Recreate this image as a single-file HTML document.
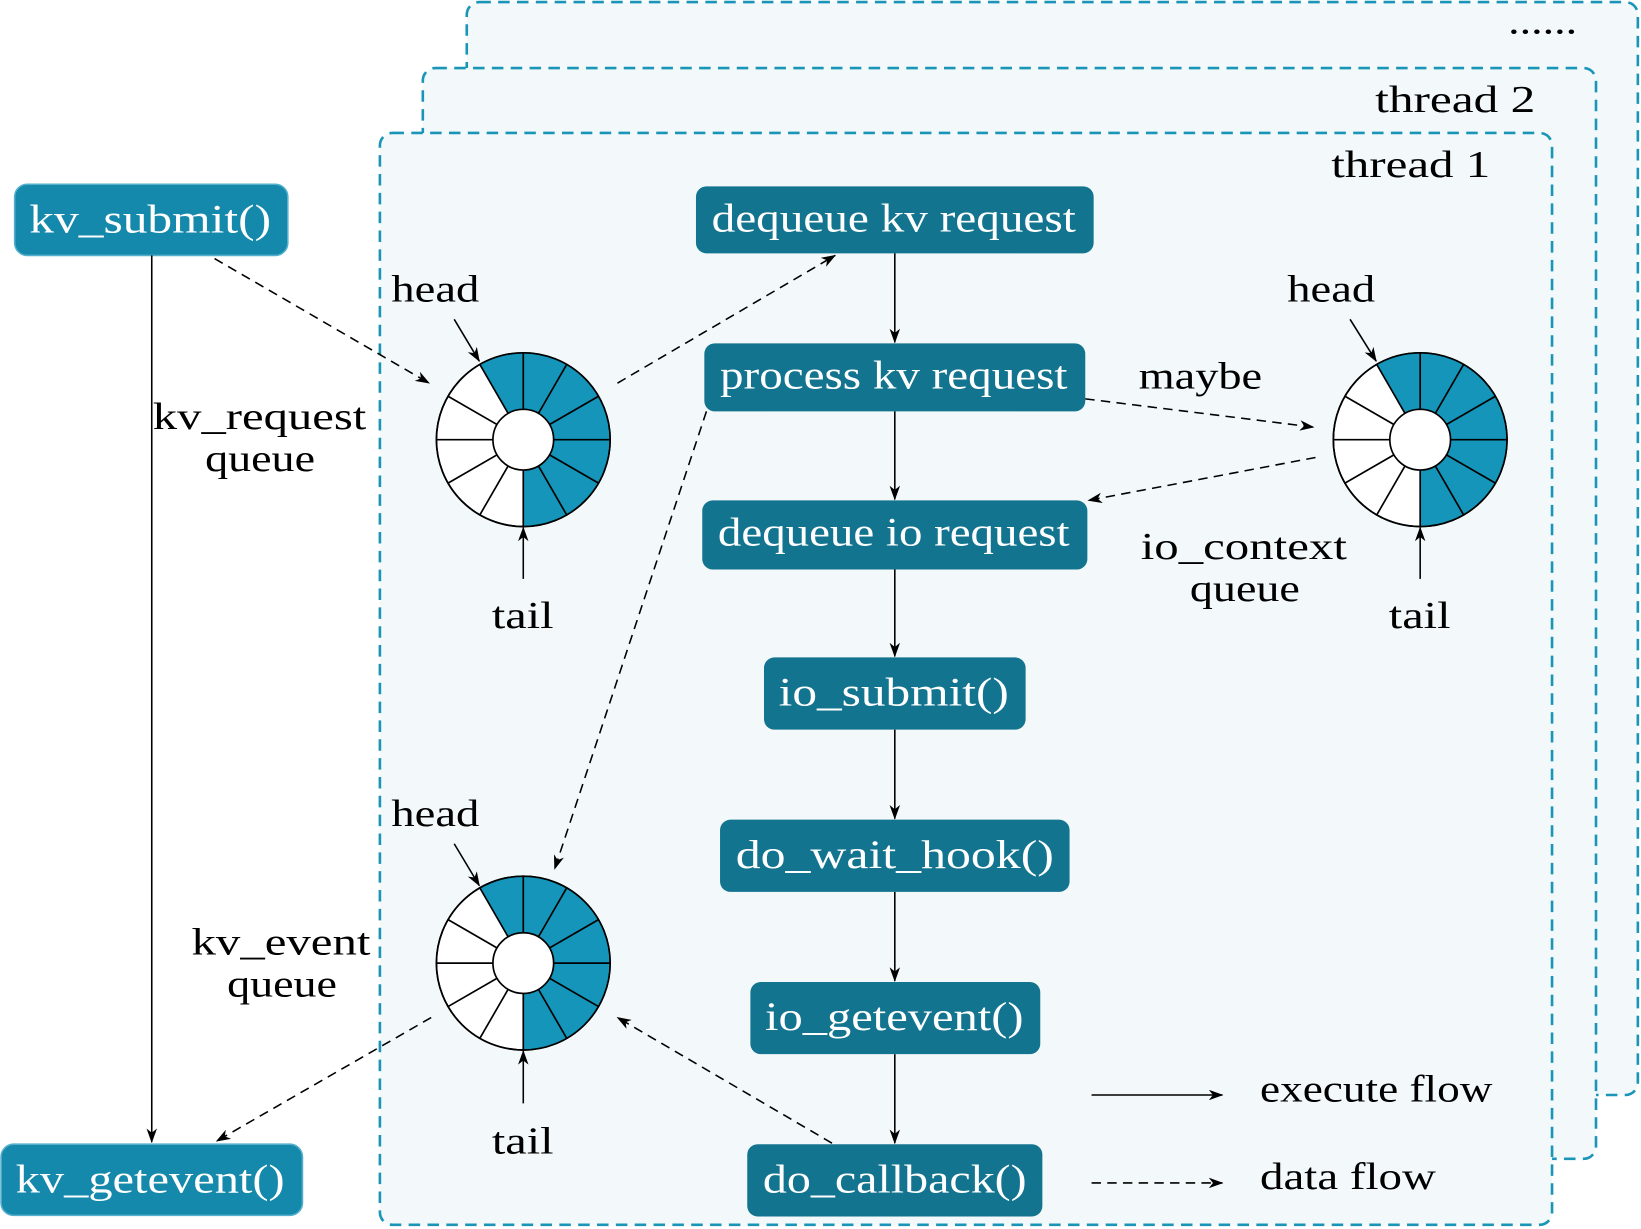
<!DOCTYPE html>
<html><head><meta charset="utf-8"><style>
html,body{margin:0;padding:0;background:#fff;}
svg{display:block;}
text{font-family:"Liberation Serif",serif;}
</style></head><body>
<svg width="1641" height="1229" viewBox="0 0 1568 1174" preserveAspectRatio="none" xmlns="http://www.w3.org/2000/svg">
<defs>
<marker id="ah" markerWidth="14" markerHeight="10" refX="13" refY="5" orient="auto" markerUnits="userSpaceOnUse">
<path d="M0,0 L14,5 L0,10 L4,5 Z" fill="#000"/>
</marker>
<g id="ring">
<circle r="83" fill="#fff" stroke="#000" stroke-width="1.6"/>
<path d="M -41.5 -71.88 A 83 83 0 1 1 0 83 L 0 29 A 29 29 0 1 0 -14.5 -25.11 Z" fill="#1595b9"/>
<g stroke="#000" stroke-width="1.6">
<line x1="83" y1="0" x2="-83" y2="0"/>
<line x1="71.88" y1="-41.5" x2="-71.88" y2="41.5"/>
<line x1="41.5" y1="-71.88" x2="-41.5" y2="71.88"/>
<line x1="0" y1="-83" x2="0" y2="83"/>
<line x1="-41.5" y1="-71.88" x2="41.5" y2="71.88"/>
<line x1="-71.88" y1="-41.5" x2="71.88" y2="41.5"/>
</g>
<circle r="83" fill="none" stroke="#000" stroke-width="1.6"/>
<circle r="29" fill="#fff" stroke="#000" stroke-width="1.6"/>
</g>
</defs>

<g fill="#f3f9fa" stroke="#1a95b8" stroke-width="2.5" stroke-dasharray="11,7">
<rect x="446" y="2" width="1119" height="1044" rx="12"/>
<rect x="404" y="65" width="1121" height="1042" rx="12"/>
<rect x="363" y="127" width="1120" height="1043" rx="12"/>
</g>
<g font-size="36" fill="#000" lengthAdjust="spacingAndGlyphs">
<text x="1441" y="32" textLength="66" lengthAdjust="spacingAndGlyphs">......</text>
<text x="1314" y="107" textLength="153" lengthAdjust="spacingAndGlyphs">thread 2</text>
<text x="1272" y="169" textLength="152" lengthAdjust="spacingAndGlyphs">thread 1</text>
</g>

<g fill="#13748f">
<rect x="665" y="178" width="380" height="64" rx="10"/>
<rect x="673" y="328" width="364" height="65" rx="10"/>
<rect x="671" y="478" width="368" height="66" rx="10"/>
<rect x="730" y="628" width="250" height="69" rx="10"/>
<rect x="688" y="783" width="334" height="69" rx="10"/>
<rect x="717" y="938" width="277" height="69" rx="10"/>
<rect x="714" y="1093" width="282" height="69" rx="10"/>
</g>
<g fill="#1589ab" stroke="#55afcc" stroke-width="1.5">
<rect x="14" y="176" width="261" height="68" rx="12"/>
<rect x="1" y="1093" width="288" height="68" rx="12"/>
</g>
<g font-size="38" fill="#fff">
<text x="680" y="221" textLength="348" lengthAdjust="spacingAndGlyphs">dequeue kv request</text>
<text x="688" y="371" textLength="332" lengthAdjust="spacingAndGlyphs">process kv request</text>
<text x="686" y="521" textLength="336" lengthAdjust="spacingAndGlyphs">dequeue io request</text>
<text x="744" y="674" textLength="220" lengthAdjust="spacingAndGlyphs">io_submit()</text>
<text x="703" y="829" textLength="304" lengthAdjust="spacingAndGlyphs">do_wait_hook()</text>
<text x="731" y="984" textLength="247" lengthAdjust="spacingAndGlyphs">io_getevent()</text>
<text x="729" y="1139" textLength="252" lengthAdjust="spacingAndGlyphs">do_callback()</text>
<text x="28" y="222" textLength="231" lengthAdjust="spacingAndGlyphs">kv_submit()</text>
<text x="15" y="1139" textLength="257" lengthAdjust="spacingAndGlyphs">kv_getevent()</text>
</g>

<g stroke="#000" stroke-width="1.5" marker-end="url(#ah)">
<line x1="855" y1="242" x2="855" y2="327"/>
<line x1="855" y1="393" x2="855" y2="477"/>
<line x1="855" y1="544" x2="855" y2="627"/>
<line x1="855" y1="697" x2="855" y2="782"/>
<line x1="855" y1="852" x2="855" y2="937"/>
<line x1="855" y1="1007" x2="855" y2="1092"/>
<line x1="145" y1="244" x2="145" y2="1091"/>
<line x1="1043" y1="1046" x2="1168" y2="1046"/>
</g>

<use href="#ring" x="500" y="420"/>
<use href="#ring" x="1357" y="420"/>
<use href="#ring" x="500" y="920"/>

<g stroke="#000" stroke-width="1.5" marker-end="url(#ah)">
<line x1="434" y1="305" x2="458" y2="345"/>
<line x1="500" y1="553" x2="500" y2="504"/>
<line x1="1290" y1="305" x2="1315" y2="345"/>
<line x1="1357" y1="553" x2="1357" y2="504"/>
<line x1="434" y1="806" x2="458" y2="846"/>
<line x1="500" y1="1054" x2="500" y2="1004"/>
</g>

<g stroke="#000" stroke-width="1.5" stroke-dasharray="9,6" marker-end="url(#ah)" fill="none">
<line x1="205" y1="247" x2="410" y2="366"/>
<line x1="590" y1="366" x2="798" y2="244"/>
<line x1="1037" y1="381" x2="1255" y2="408"/>
<line x1="1257" y1="437" x2="1040" y2="478"/>
<line x1="675" y1="393" x2="530" y2="830"/>
<line x1="795" y1="1092" x2="590" y2="972"/>
<line x1="412" y1="972" x2="207" y2="1090"/>
<line x1="1043" y1="1130" x2="1168" y2="1130"/>
</g>

<g font-size="36" fill="#000">
<text x="374" y="288" textLength="84" lengthAdjust="spacingAndGlyphs">head</text>
<text x="470" y="600" textLength="59" lengthAdjust="spacingAndGlyphs">tail</text>
<text x="1230" y="288" textLength="84" lengthAdjust="spacingAndGlyphs">head</text>
<text x="1327" y="600" textLength="59" lengthAdjust="spacingAndGlyphs">tail</text>
<text x="374" y="789" textLength="84" lengthAdjust="spacingAndGlyphs">head</text>
<text x="470" y="1102" textLength="59" lengthAdjust="spacingAndGlyphs">tail</text>
<text x="1088" y="371" textLength="118" lengthAdjust="spacingAndGlyphs">maybe</text>
<text x="146" y="410" textLength="204" lengthAdjust="spacingAndGlyphs">kv_request</text>
<text x="196" y="450" textLength="105" lengthAdjust="spacingAndGlyphs">queue</text>
<text x="183" y="912" textLength="171" lengthAdjust="spacingAndGlyphs">kv_event</text>
<text x="217" y="952" textLength="105" lengthAdjust="spacingAndGlyphs">queue</text>
<text x="1090" y="534" textLength="197" lengthAdjust="spacingAndGlyphs">io_context</text>
<text x="1137" y="574" textLength="105" lengthAdjust="spacingAndGlyphs">queue</text>
<text x="1204" y="1052" textLength="222" lengthAdjust="spacingAndGlyphs">execute flow</text>
<text x="1204" y="1136" textLength="168" lengthAdjust="spacingAndGlyphs">data flow</text>
</g>
</svg>
</body></html>
